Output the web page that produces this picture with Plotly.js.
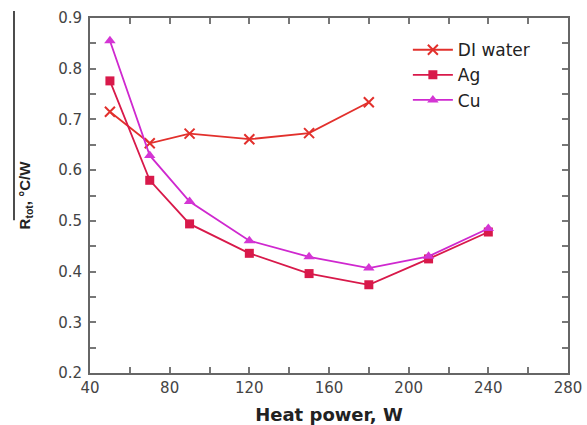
<!DOCTYPE html>
<html>
<head>
<meta charset="utf-8">
<script src="https://cdn.plot.ly/plotly-3.0.1.min.js"></script>
<style>html,body{margin:0;padding:0;background:#fff;}#chart{width:587px;height:425px;}</style>
</head>
<body>
<div id="chart"></div>
<script>
const heatPower = [50, 70, 90, 120, 150, 180, 210, 240];
const diWaterPower = [50, 70, 90, 120, 150, 180];
const diWater = [0.715, 0.653, 0.672, 0.661, 0.673, 0.734];
const ag = [0.776, 0.580, 0.494, 0.436, 0.396, 0.374, 0.425, 0.478];
const cu = [0.855, 0.629, 0.538, 0.461, 0.429, 0.407, 0.430, 0.485];
const xTicks = [40, 80, 120, 160, 200, 240, 280];
const yTicks = [0.2, 0.3, 0.4, 0.5, 0.6, 0.7, 0.8, 0.9];

const traces = [
  {x: diWaterPower, y: diWater, name: 'DI water', mode: 'lines+markers',
   line: {color: '#e2302c', width: 1.8},
   marker: {symbol: 'x-thin', size: 10, line: {color: '#e2302c', width: 2}}},
  {x: heatPower, y: ag, name: 'Ag', mode: 'lines+markers',
   line: {color: '#d8194a', width: 1.8},
   marker: {symbol: 'square', size: 9, color: '#d8194a'}},
  {x: heatPower, y: cu, name: 'Cu', mode: 'lines+markers',
   line: {color: '#cf28cf', width: 1.8},
   marker: {symbol: 'triangle-up', size: 10, color: '#d435d4'}}
];

const axisCommon = {
  showline: true, linecolor: '#666', linewidth: 2, mirror: 'ticks',
  ticks: 'inside', ticklen: 6, tickwidth: 2, tickcolor: '#777',
  showgrid: false, zeroline: false,
  tickfont: {family: 'DejaVu Sans, sans-serif', size: 15, color: '#444'}
};

const layout = {
  width: 587, height: 425,
  margin: {l: 90, r: 19, t: 18, b: 52},
  paper_bgcolor: '#fff', plot_bgcolor: '#fff',
  showlegend: true,
  legend: {x: 0.665, y: 0.96, xanchor: 'left', yanchor: 'top',
           font: {family: 'DejaVu Sans, sans-serif', size: 17, color: '#222'},
           tracegroupgap: 0, itemwidth: 40, bgcolor: 'rgba(0,0,0,0)'},
  xaxis: Object.assign({}, axisCommon, {
    range: [40, 280], tickvals: xTicks, ticktext: xTicks.map(String),
    minor: {dtick: 20, tick0: 40, ticks: 'inside', ticklen: 6, tickwidth: 2, tickcolor: '#777'},
    title: {text: '<b>Heat power, W</b>', standoff: 13,
            font: {family: 'DejaVu Sans, sans-serif', size: 18, color: '#222'}}
  }),
  yaxis: Object.assign({}, axisCommon, {
    range: [0.2, 0.9], tickvals: yTicks, ticktext: yTicks.map(v => v.toFixed(1)),
    ticklabelstandoff: 3,
    minor: {dtick: 0.05, tick0: 0.2, ticks: 'inside', ticklen: 6, tickwidth: 2, tickcolor: '#777'},
    title: {text: '<b>R<sub>tot</sub>, °C/W</b>', standoff: 24,
            font: {family: 'Liberation Sans, Arial, sans-serif', size: 15, color: '#222'}}
  }),
  shapes: [
    {type: 'line', xref: 'paper', yref: 'paper', x0: -0.159, x1: -0.159, y0: 0.43, y1: 1.02,
     line: {color: '#111', width: 1.5}}
  ]
};

Plotly.newPlot('chart', traces, layout, {displayModeBar: false, staticPlot: true});
</script>
</body>
</html>
